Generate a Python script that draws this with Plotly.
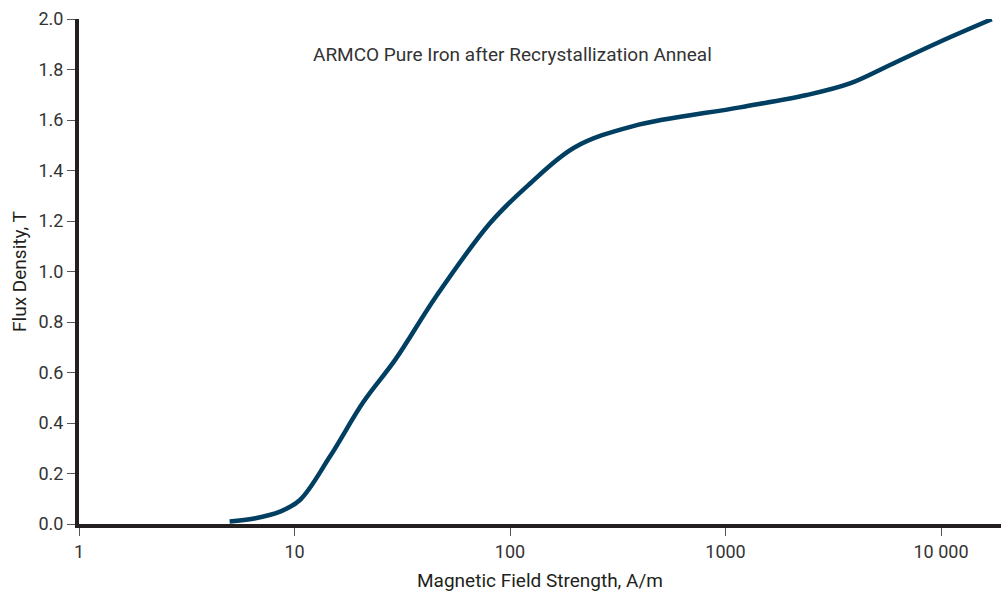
import plotly.graph_objects as go

field_strength = [5.0, 6.5, 8.57, 10.6, 14.6, 20.9, 29.3, 45.7, 80.7,
                  122, 200, 373, 1167, 2380, 3780, 5800, 9890, 17200]
flux_density = [0.010, 0.022, 0.049, 0.095, 0.267, 0.484, 0.650, 0.905, 1.191,
                1.343, 1.492, 1.576, 1.650, 1.699, 1.745, 1.818, 1.910, 1.999]

x_tick_vals = [1, 10, 100, 1000, 10000]
x_tick_text = ["1", "10", "100", "1000", "10 000"]
y_tick_vals = [0.0, 0.2, 0.4, 0.6, 0.8, 1.0, 1.2, 1.4, 1.6, 1.8, 2.0]
y_tick_text = ["0.0", "0.2", "0.4", "0.6", "0.8", "1.0", "1.2", "1.4", "1.6", "1.8", "2.0"]

FONT = "Roboto, Liberation Sans, sans-serif"

fig = go.Figure()
fig.add_trace(go.Scatter(
    x=field_strength, y=flux_density, mode="lines",
    line=dict(color="#003f62", width=4.5, shape="spline", smoothing=1.0),
    showlegend=False, hoverinfo="skip",
))

fig.update_layout(
    width=1001, height=598,
    margin=dict(l=79, r=0, t=19, b=74),
    paper_bgcolor="white", plot_bgcolor="white",
    font=dict(family=FONT, color="#333333", size=18),
    annotations=[dict(
        text="ARMCO Pure Iron after Recrystallization Anneal",
        xref="paper", yref="paper", x=0.47, y=0.93,
        showarrow=False, xanchor="center", yanchor="middle",
        font=dict(family=FONT, size=19, color="#333333"),
    )],
)

fig.update_xaxes(
    type="log", range=[0, 922 / 215.5],
    tickvals=x_tick_vals, ticktext=x_tick_text,
    showgrid=False, zeroline=False,
    showline=True, linewidth=4, linecolor="#231f20",
    ticks="outside", ticklen=8, tickwidth=1, tickcolor="#555555",
    tickfont=dict(family=FONT, size=18, color="#333333"),
    title=dict(text="Magnetic Field Strength, A/m", standoff=14,
               font=dict(family=FONT, size=19, color="#231f20")),
)
fig.update_yaxes(
    range=[0, 2.0],
    tickvals=y_tick_vals, ticktext=y_tick_text,
    showgrid=False, zeroline=False,
    showline=True, linewidth=4, linecolor="#231f20",
    ticks="outside", ticklen=8, tickwidth=1, tickcolor="#555555",
    tickfont=dict(family=FONT, size=18, color="#333333"),
    title=dict(text="Flux Density, T", standoff=8,
               font=dict(family=FONT, size=19, color="#231f20")),
)

fig.write_html("out.html")
